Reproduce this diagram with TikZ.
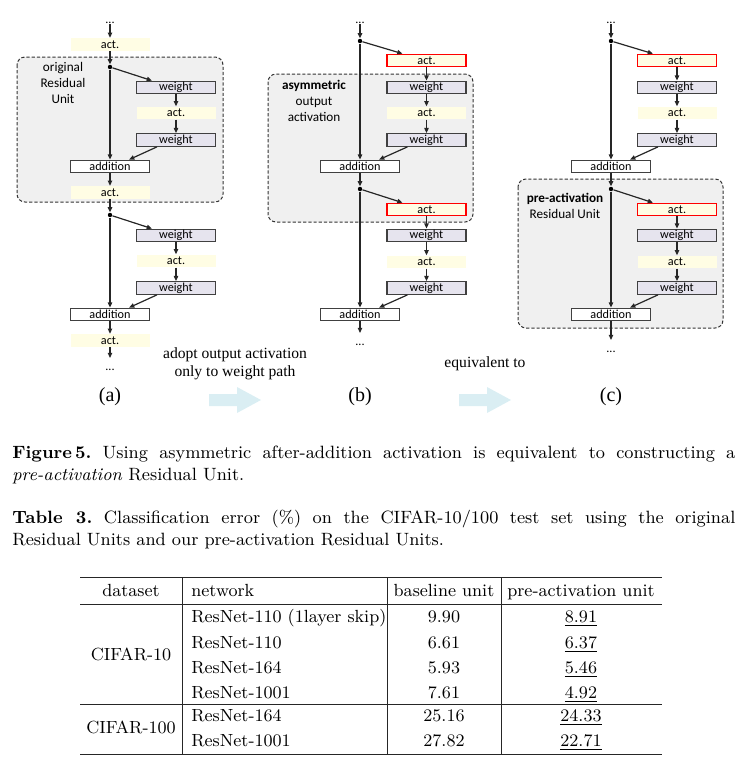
\documentclass[tikz,border=0pt]{standalone}
\usepackage{fontspec}
\usepackage{amsmath}
\usetikzlibrary{arrows.meta}
\newfontfamily\boxfont{Carlito}
\newfontfamily\timesfont{Liberation Serif}
\definecolor{actyellow}{HTML}{FFFDE4}
\definecolor{weightgray}{HTML}{E6E4EE}
\definecolor{unitgray}{HTML}{F0F0F0}
\definecolor{arrowblue}{HTML}{DAEEF3}

\begin{document}
\begin{tikzpicture}[x=0.5pt, y=-0.5pt,
    actbox/.style = {fill=actyellow, minimum width=39.5pt, minimum height=6.3pt, inner sep=0pt, font=\boxfont\fontsize{6.1}{7}\selectfont},
    redact/.style = {actbox, draw=red, line width=0.55pt},
    weightbox/.style = {actbox, fill=weightgray, draw=black!75, line width=0.6pt},
    addbox/.style = {actbox, fill=white, draw=black!75, line width=0.6pt},
    junction/.style = {circle, fill=black, inner sep=0pt, minimum size=2.2pt},
    dotsnode/.style = {inner sep=0pt, font=\boxfont\fontsize{6.1}{7}\selectfont},
    flow/.style = {-{Triangle[length=2.6pt, width=2.2pt]}, line width=0.6pt, draw=black!85},
    unitbox/.style = {draw=black!80, fill=unitgray, dash pattern=on 1.6pt off 1pt, rounded corners=4pt, line width=0.5pt},
    unitlabel/.style = {align=center, inner sep=0pt, font=\boxfont\fontsize{6.6}{7.8}\selectfont},
    panellabel/.style = {inner sep=0pt, font=\timesfont\fontsize{10}{12}\selectfont},
    stepnote/.style = {align=center, inner sep=0pt, font=\timesfont\fontsize{7.8}{9}\selectfont},
    captext/.style = {inner sep=0pt, anchor=base west, font=\fontsize{8.9}{11}\selectfont\frenchspacing},
    tabtext/.style = {inner sep=0pt, font=\fontsize{8.8}{10.5}\selectfont},
    tabrule/.style = {line width=0.5pt, draw=black!85}]
\useasboundingbox (0,0) rectangle (746,762);

% dashed unit regions
\draw[unitbox] (17,57) rectangle (223,202);
\draw[unitbox] (268,74) rectangle (473,222);
\draw[unitbox] (518,179) rectangle (723,328);
\node[unitlabel] (a-label) at (63,83) {original\\Residual\\Unit};
\node[unitlabel] (b-label) at (314,101) {\textbf{asymmetric}\\output\\activation};
\node[unitlabel] (c-label) at (565,206) {\textbf{pre-activation}\\Residual Unit};

% panel (a)
\node[dotsnode, anchor=base] (a-top) at (110,23) {...};
\node[actbox] (a-act0) at (110,44.5) {act.};
\node[junction] (a-j1) at (110,67) {};
\node[weightbox] (a-w1) at (176,87.5) {weight};
\node[actbox] (a-act1) at (176,113) {act.};
\node[weightbox] (a-w2) at (176,140) {weight};
\node[addbox] (a-add1) at (110,166.5) {addition};
\node[actbox] (a-act2) at (110,192.5) {act.};
\node[junction] (a-j2) at (110,215) {};
\node[weightbox] (a-w3) at (176,235.5) {weight};
\node[actbox] (a-act3) at (176,261) {act.};
\node[weightbox] (a-w4) at (176,288) {weight};
\node[addbox] (a-add2) at (110,314.5) {addition};
\node[actbox] (a-act4) at (110,340.5) {act.};
\coordinate (a-tip) at (110,358);
\node[dotsnode, anchor=base] (a-end) at (110,370) {...};
\draw[flow] (a-top) -- (a-act0);
\draw[flow] (a-act0) -- (a-j1);
\draw[flow] (a-j1) -- ([xshift=8pt]a-w1.north west);
\draw[flow] (a-w1) -- (a-act1);
\draw[flow] (a-act1) -- (a-w2);
\draw[flow] ([xshift=10.5pt]a-w2.south west) -- ([xshift=-10.5pt]a-add1.north east);
\draw[flow] (a-j1) -- (a-add1);
\draw[flow] (a-add1) -- (a-act2);
\draw[flow] (a-act2) -- (a-j2);
\draw[flow] (a-j2) -- ([xshift=8pt]a-w3.north west);
\draw[flow] (a-w3) -- (a-act3);
\draw[flow] (a-act3) -- (a-w4);
\draw[flow] ([xshift=10.5pt]a-w4.south west) -- ([xshift=-10.5pt]a-add2.north east);
\draw[flow] (a-j2) -- (a-add2);
\draw[flow] (a-add2) -- (a-act4);
\draw[flow] (a-act4) -- (a-tip);

% panels (b) and (c)
\foreach \p/\mx/\bx/\ey in {b/360/426.5/333, c/611/677/340} {
    \node[dotsnode, anchor=base] (\p-top) at (\mx,23) {...};
    \node[junction] (\p-j1) at (\mx,41) {};
    \node[redact] (\p-ra1) at (\bx,60.5) {act.};
    \node[weightbox] (\p-w1) at (\bx,87.5) {weight};
    \node[actbox] (\p-act1) at (\bx,113) {act.};
    \node[weightbox] (\p-w2) at (\bx,140) {weight};
    \node[addbox] (\p-add1) at (\mx,166.5) {addition};
    \node[junction] (\p-j2) at (\mx,189) {};
    \node[redact] (\p-ra2) at (\bx,209.5) {act.};
    \node[weightbox] (\p-w3) at (\bx,235.5) {weight};
    \node[actbox] (\p-act3) at (\bx,262) {act.};
    \node[weightbox] (\p-w4) at (\bx,288) {weight};
    \node[addbox] (\p-add2) at (\mx,314.5) {addition};
    \coordinate (\p-tip) at (\mx,\ey);
    \node[dotsnode, anchor=base] (\p-end) at (\mx,\ey+12) {...};
    \draw[flow] (\p-top) -- (\p-j1);
    \draw[flow] (\p-j1) -- ([xshift=8pt]\p-ra1.north west);
    \draw[flow] (\p-ra1) -- (\p-w1);
    \draw[flow] (\p-w1) -- (\p-act1);
    \draw[flow] (\p-act1) -- (\p-w2);
    \draw[flow] ([xshift=10.5pt]\p-w2.south west) -- ([xshift=-10.5pt]\p-add1.north east);
    \draw[flow] (\p-j1) -- (\p-add1);
    \draw[flow] (\p-add1) -- (\p-j2);
    \draw[flow] (\p-j2) -- ([xshift=8pt]\p-ra2.north west);
    \draw[flow] (\p-ra2) -- (\p-w3);
    \draw[flow] (\p-w3) -- (\p-act3);
    \draw[flow] (\p-act3) -- (\p-w4);
    \draw[flow] ([xshift=10.5pt]\p-w4.south west) -- ([xshift=-10.5pt]\p-add2.north east);
    \draw[flow] (\p-j2) -- (\p-add2);
    \draw[flow] (\p-add2) -- (\p-tip);
}

% panel labels and block arrows
\node[panellabel] (a-cap) at (110,397) {(a)};
\node[panellabel] (b-cap) at (360,397) {(b)};
\node[panellabel] (c-cap) at (611,397) {(c)};
\node[stepnote] (adopt-note) at (235,364) {adopt output activation\\only to weight path};
\node[stepnote] (equiv-note) at (485,364) {equivalent to};
\foreach \ax in {209,459}
    \fill[arrowblue] (\ax,394) -- ++(28,0) -- ++(0,-7) -- ++(24,13) -- ++(-24,13) -- ++(0,-7) -- ++(-28,0) -- cycle;

% captions
\node[captext] (fig-cap1) at (12,458) {\makebox[361.5pt][s]{\textbf{Figure\,5.} Using asymmetric after-addition activation is equivalent to constructing a}};
\node[captext] (fig-cap2) at (12,480) {\textit{pre-activation} Residual Unit.};
\node[captext] (tab-cap1) at (12,523) {\makebox[361.5pt][s]{\textbf{Table 3.} Classification error (\%) on the CIFAR-10/100 test set using the original}};
\node[captext] (tab-cap2) at (12,545) {Residual Units and our pre-activation Residual Units.};

% table
\draw[tabrule] (80,577) -- (662,577);
\draw[tabrule] (80,604) -- (662,604);
\draw[tabrule] (80,704) -- (662,704);
\draw[tabrule] (80,754) -- (662,754);
\foreach \vx in {182,387,501}
    \draw[tabrule] (\vx,577) -- (\vx,754);
\node[tabtext, anchor=base] (h-data) at (131,596) {dataset};
\node[tabtext, anchor=base west] (h-net) at (191,596) {network};
\node[tabtext, anchor=base] (h-base) at (444,596) {baseline unit};
\node[tabtext, anchor=base] (h-pre) at (581,596) {pre-activation unit};
\node[tabtext, anchor=base] (d-10) at (131,660) {CIFAR-10};
\node[tabtext, anchor=base] (d-100) at (131,733) {CIFAR-100};
\foreach \y/\net/\base/\pre [count=\i] in {622/ResNet-110 (1layer skip)/9.90/8.91, 648/ResNet-110/6.61/6.37, 673/ResNet-164/5.93/5.46, 698/ResNet-1001/7.61/4.92, 721/ResNet-164/25.16/24.33, 746/ResNet-1001/27.82/22.71} {
    \node[tabtext, anchor=base west] (net-\i) at (191,\y) {\net};
    \node[tabtext, anchor=base] (base-\i) at (444,\y) {\base};
    \node[tabtext, anchor=base] (pre-\i) at (581,\y) {\underline{\pre}};
}
\end{tikzpicture}
\end{document}
